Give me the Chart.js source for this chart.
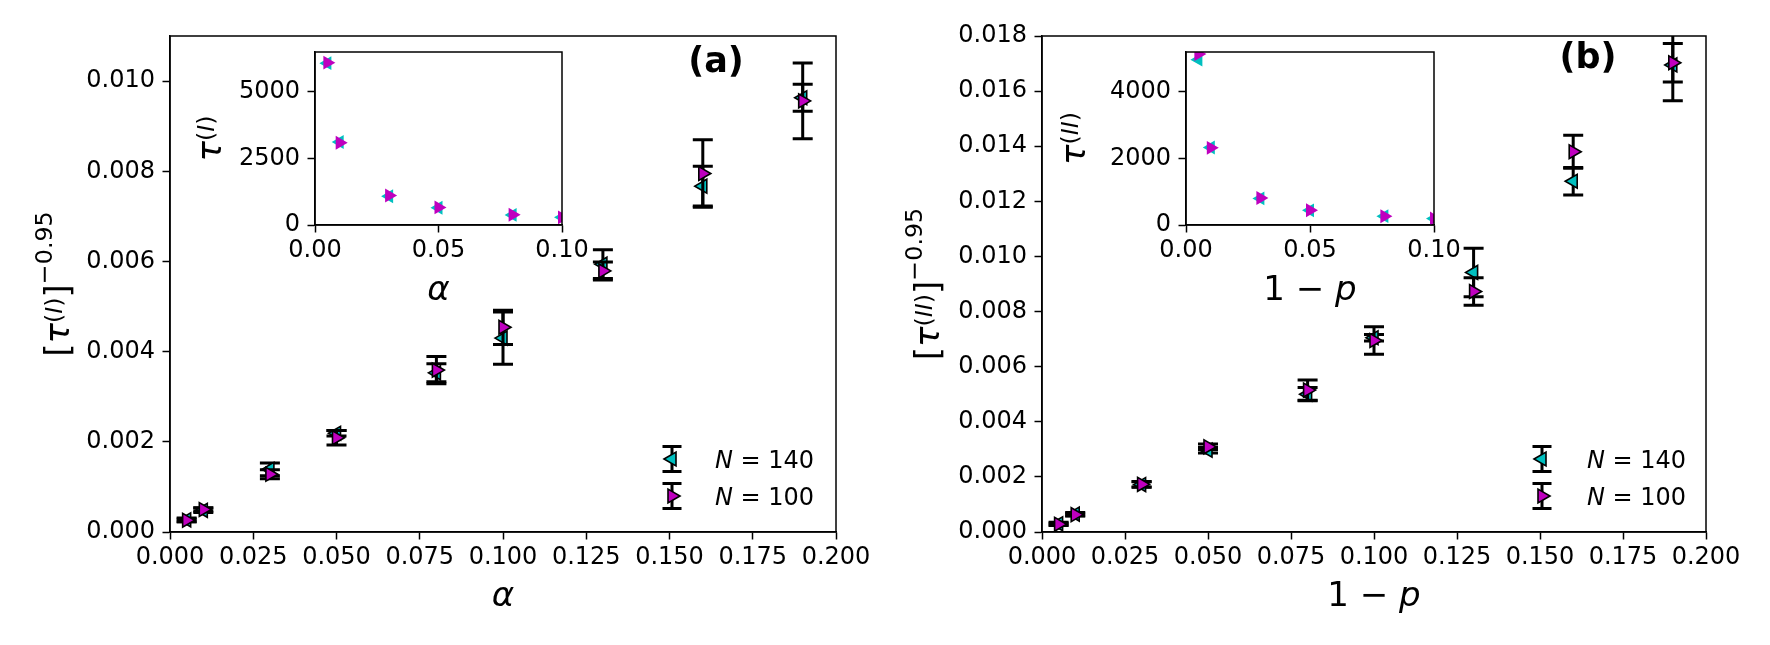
<!DOCTYPE html>
<html>
<head>
<meta charset="utf-8">
<script src="https://cdn.jsdelivr.net/npm/chart.js@4/dist/chart.umd.min.js"></script>
<style>
  html, body { margin: 0; padding: 0; background: #fff; }
  #wrap { position: relative; width: 1770px; height: 645px; }
  #wrap canvas { position: absolute; left: 0; top: 0; }
</style>
</head>
<body>
<div id="wrap">
  <canvas id="mainA" width="1770" height="645"></canvas>
  <canvas id="insetA" width="1770" height="645"></canvas>
  <canvas id="mainB" width="1770" height="645"></canvas>
  <canvas id="insetB" width="1770" height="645"></canvas>
</div>
<script>
// ---- data ----
const xVals = [0.005, 0.01, 0.03, 0.05, 0.08, 0.1, 0.13, 0.16, 0.19];

// panel (a): [tau^(I)]^-0.95 vs alpha
const a140 = [0.00027, 0.00048, 0.00139, 0.00219, 0.00353, 0.00430, 0.00594, 0.00767, 0.00963];
const a140Err = [0.00004, 0.00005, 0.00014, 0.00006, 0.00020, 0.00058, 0.00032, 0.00044, 0.00030];
const a100 = [0.00026, 0.00050, 0.00128, 0.00209, 0.00359, 0.00454, 0.00579, 0.00795, 0.00956];
const a100Err = [0.00003, 0.00004, 0.00010, 0.00016, 0.00030, 0.00038, 0.00020, 0.00075, 0.00084];

// panel (b): [tau^(II)]^-0.95 vs 1-p
const b140 = [0.00030, 0.00065, 0.00172, 0.00297, 0.00500, 0.00705, 0.00942, 0.01273, 0.01695];
const b140Err = [0.00005, 0.00006, 0.00010, 0.00010, 0.00024, 0.00012, 0.00088, 0.00050, 0.00130];
const b100 = [0.00028, 0.00063, 0.00173, 0.00309, 0.00515, 0.00695, 0.00873, 0.01380, 0.01703];
const b100Err = [0.00004, 0.00005, 0.00010, 0.00010, 0.00037, 0.00050, 0.00050, 0.00060, 0.00070];

// insets: raw tau
const insetX = [0.005, 0.01, 0.03, 0.05, 0.08, 0.1];
const tauA140 = [6080, 3120, 1080, 650, 380, 290];
const tauA100 = [6100, 3090, 1110, 660, 386, 285];
const tauB140 = [4970, 2330, 800, 440, 265, 195];
const tauB100 = [5140, 2320, 812, 442, 263, 194];

// tick values
const mainXTicks = [0, 0.025, 0.05, 0.075, 0.1, 0.125, 0.15, 0.175, 0.2];
const mainYATicks = [0, 0.002, 0.004, 0.006, 0.008, 0.010];
const mainYBTicks = [0, 0.002, 0.004, 0.006, 0.008, 0.010, 0.012, 0.014, 0.016, 0.018];
const insetXTicks = [0, 0.05, 0.1];
const insetYATicks = [0, 2500, 5000];
const insetYBTicks = [0, 2000, 4000];

// axis ranges
const mainX = { min: 0, max: 0.2, ticks: mainXTicks, dec: 3 };
const mainYA = { min: 0, max: 0.011, ticks: mainYATicks, dec: 3 };
const mainYB = { min: 0, max: 0.018, ticks: mainYBTicks, dec: 3 };
const insetXAx = { min: 0, max: 0.1, ticks: insetXTicks, dec: 2 };
const insetYA = { min: 0, max: 6500, ticks: insetYATicks, dec: 0 };
const insetYB = { min: 0, max: 5200, ticks: insetYBTicks, dec: 0 };

const legendLabels = ['140', '100'];

Chart.defaults.font.family = '"DejaVu Sans", sans-serif';
Chart.defaults.color = '#000';
Chart.defaults.animation = false;

const W = 1770, H = 645;
const CYAN = '#00bfbf', MAGENTA = '#bf00bf';
const FONT = '"DejaVu Sans"';

function axis(ax, fixed, horizontal) {
  return {
    type: 'linear',
    position: horizontal ? 'bottom' : 'left',
    min: ax.min, max: ax.max,
    grid: { display: true, drawOnChartArea: false, drawTicks: true, tickLength: 7.5,
            tickWidth: 1.5, tickColor: '#000', color: '#000' },
    border: { display: true, color: '#000', width: 1.5 },
    ticks: {
      autoSkip: false, maxRotation: 0, minRotation: 0,
      padding: horizontal ? 4 : 7.5,
      color: '#000', font: { family: FONT, size: 24 },
      callback: v => v.toFixed(ax.dec)
    },
    afterBuildTicks: s => { s.ticks = ax.ticks.map(v => ({ value: v })); },
    afterFit: s => { if (horizontal) s.height = fixed; else s.width = fixed; }
  };
}

function series(label, xs, ys, errs, color, rot, edge, order) {
  return {
    label,
    data: xs.map((x, i) => ({ x, y: ys[i] })),
    errors: errs,
    showLine: false,
    pointStyle: 'triangle',
    pointRotation: rot,
    pointRadius: 8, pointHoverRadius: 8,
    pointBackgroundColor: color,
    pointBorderColor: edge ? '#000' : color,
    pointBorderWidth: edge ? 1.6 : 0,
    backgroundColor: color,
    borderColor: edge ? '#000' : color,
    order, clip: 0
  };
}

// error bars, drawn just before each dataset's own markers
const errorBars = {
  id: 'errorBars',
  beforeDatasetDraw(chart, args) {
    const ds = chart.data.datasets[args.index];
    if (!ds.errors) return;
    const { ctx, chartArea: a } = chart;
    const xs = chart.scales.x, ys = chart.scales.y;
    ctx.save();
    ctx.beginPath();
    ctx.rect(a.left, a.top, a.right - a.left, a.bottom - a.top);
    ctx.clip();
    ctx.strokeStyle = '#000';
    ctx.lineWidth = 3;
    ds.data.forEach((p, i) => {
      const e = ds.errors[i];
      const px = xs.getPixelForValue(p.x);
      const lo = ys.getPixelForValue(p.y - e), hi = ys.getPixelForValue(p.y + e);
      ctx.beginPath();
      ctx.moveTo(px, lo); ctx.lineTo(px, hi);
      ctx.moveTo(px - 10, lo); ctx.lineTo(px + 10, lo);
      ctx.moveTo(px - 10, hi); ctx.lineTo(px + 10, hi);
      ctx.stroke();
    });
    ctx.restore();
  }
};

const frame = {
  id: 'frame',
  beforeDraw(chart, args, opts) {
    if (!opts.fill) return;
    const a = chart.chartArea;
    chart.ctx.save();
    chart.ctx.fillStyle = '#fff';
    chart.ctx.fillRect(a.left, a.top, a.right - a.left, a.bottom - a.top);
    chart.ctx.restore();
  },
  afterDraw(chart) {
    const a = chart.chartArea, ctx = chart.ctx;
    ctx.save();
    ctx.strokeStyle = '#000';
    ctx.lineWidth = 1.5;
    ctx.strokeRect(a.left, a.top, a.right - a.left, a.bottom - a.top);
    ctx.restore();
  }
};

// text made of runs: [text, italic, scale, raise]
function mathText(ctx, runs, size, x, y, opt) {
  opt = opt || {};
  ctx.save();
  ctx.translate(x, y);
  if (opt.rotate) ctx.rotate(-Math.PI / 2);
  const fonts = runs.map(r => (r[1] ? 'italic ' : '') + (opt.bold ? 'bold ' : '') + (size * r[2]) + 'px ' + FONT);
  const widths = runs.map((r, i) => { ctx.font = fonts[i]; return ctx.measureText(r[0]).width; });
  const total = widths.reduce((s, w) => s + w, 0);
  let cx = opt.align === 'left' ? 0 : -total / 2;
  ctx.fillStyle = '#000';
  ctx.textAlign = 'left';
  ctx.textBaseline = 'alphabetic';
  runs.forEach((r, i) => {
    ctx.font = fonts[i];
    ctx.fillText(r[0], cx, -r[3] * size);
    cx += widths[i];
  });
  ctx.restore();
}

function triangle(ctx, x, y, r, rotDeg, color, edge) {
  let rad = rotDeg * Math.PI / 180;
  ctx.beginPath();
  for (let k = 0; k < 3; k++) {
    const px = x + Math.sin(rad) * r, py = y - Math.cos(rad) * r;
    if (k === 0) ctx.moveTo(px, py); else ctx.lineTo(px, py);
    rad += 2 * Math.PI / 3;
  }
  ctx.closePath();
  ctx.fillStyle = color;
  ctx.fill();
  if (edge) { ctx.strokeStyle = '#000'; ctx.lineWidth = 1.6; ctx.stroke(); }
}

function legend(ctx, mx, tx, y0) {
  const rows = [[CYAN, -90, legendLabels[0]], [MAGENTA, 90, legendLabels[1]]];
  rows.forEach((row, k) => {
    const y = y0 + k * 37;
    ctx.save();
    ctx.strokeStyle = '#000';
    ctx.lineWidth = 3;
    ctx.beginPath();
    ctx.moveTo(mx, y - 12.5); ctx.lineTo(mx, y + 12.5);
    ctx.moveTo(mx - 9.5, y - 12.5); ctx.lineTo(mx + 9.5, y - 12.5);
    ctx.moveTo(mx - 9.5, y + 12.5); ctx.lineTo(mx + 9.5, y + 12.5);
    ctx.stroke();
    triangle(ctx, mx, y, 8, row[1], row[0], true);
    ctx.restore();
    mathText(ctx, [['N', true, 1, 0], [' = ', false, 1, 0], [row[2], false, 1, 0]], 24, tx, y + 8.7, { align: 'left' });
  });
}

function makeChart(id, area, xAx, yAx, datasets, inset, deco) {
  return new Chart(document.getElementById(id), {
    type: 'scatter',
    data: { datasets },
    options: {
      responsive: false,
      devicePixelRatio: 1,
      events: [],
      layout: { padding: { left: 0, top: area.t, right: W - area.r, bottom: 0 } },
      plugins: { legend: { display: false }, tooltip: { enabled: false }, frame: { fill: inset } },
      scales: { x: axis(xAx, H - area.b, true), y: axis(yAx, area.l, false) }
    },
    plugins: [errorBars, frame, { id: 'deco', afterDraw: c => deco(c.ctx) }]
  });
}

// ---- panel (a) ----
makeChart('mainA', { l: 170, t: 36, r: 836, b: 532 }, mainX, mainYA, [
  series('N = 140', xVals, a140, a140Err, CYAN, -90, true, 2),
  series('N = 100', xVals, a100, a100Err, MAGENTA, 90, true, 1)
], false, ctx => {
  mathText(ctx, [['α', true, 1, 0]], 34, 503, 606);
  mathText(ctx, [['[', false, 1, 0], ['τ', true, 1, 0], ['(', false, 0.7, 0.22], ['I', true, 0.7, 0.22],
                 [')', false, 0.7, 0.22], [']', false, 1, 0], ['−0.95', false, 0.7, 0.5]], 34, 69, 284, { rotate: true });
  mathText(ctx, [['(a)', false, 1, 0]], 35, 716, 72, { bold: true });
  legend(ctx, 672, 715, 459);
});

makeChart('insetA', { l: 315, t: 52, r: 562, b: 225 }, insetXAx, insetYA, [
  series('N = 140', insetX, tauA140, null, CYAN, -90, false, 2),
  series('N = 100', insetX, tauA100, null, MAGENTA, 90, false, 1)
], true, ctx => {
  mathText(ctx, [['α', true, 1, 0]], 34, 438.5, 300);
  mathText(ctx, [['τ', true, 1, 0], ['(', false, 0.7, 0.22], ['I', true, 0.7, 0.22], [')', false, 0.7, 0.22]],
           34, 221, 138.5, { rotate: true });
});

// ---- panel (b) ----
makeChart('mainB', { l: 1042, t: 36, r: 1706, b: 532 }, mainX, mainYB, [
  series('N = 140', xVals, b140, b140Err, CYAN, -90, true, 2),
  series('N = 100', xVals, b100, b100Err, MAGENTA, 90, true, 1)
], false, ctx => {
  mathText(ctx, [['1 − ', false, 1, 0], ['p', true, 1, 0]], 34, 1374, 606);
  mathText(ctx, [['[', false, 1, 0], ['τ', true, 1, 0], ['(', false, 0.7, 0.22], ['II', true, 0.7, 0.22],
                 [')', false, 0.7, 0.22], [']', false, 1, 0], ['−0.95', false, 0.7, 0.5]], 34, 939, 284, { rotate: true });
  mathText(ctx, [['(b)', false, 1, 0]], 35, 1588, 68, { bold: true });
  legend(ctx, 1542, 1587, 459);
});

makeChart('insetB', { l: 1186, t: 52, r: 1434, b: 225 }, insetXAx, insetYB, [
  series('N = 140', insetX, tauB140, null, CYAN, -90, false, 2),
  series('N = 100', insetX, tauB100, null, MAGENTA, 90, false, 1)
], true, ctx => {
  mathText(ctx, [['1 − ', false, 1, 0], ['p', true, 1, 0]], 34, 1310, 300);
  mathText(ctx, [['τ', true, 1, 0], ['(', false, 0.7, 0.22], ['II', true, 0.7, 0.22], [')', false, 0.7, 0.22]],
           34, 1085, 138.5, { rotate: true });
});
</script>
</body>
</html>
